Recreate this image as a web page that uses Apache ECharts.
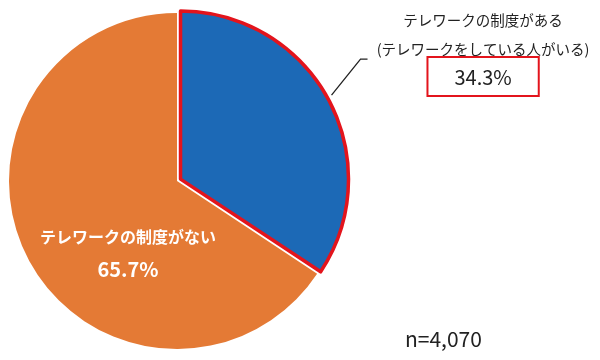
<!DOCTYPE html>
<html>
<head>
<meta charset="utf-8">
<script src="https://cdn.jsdelivr.net/npm/echarts@6/dist/echarts.min.js"></script>
<style>html,body{margin:0;padding:0;background:#fff}#c{width:600px;height:360px}</style>
</head>
<body>
<div id="c"></div>
<script>
const categories = ['テレワークの制度がある', 'テレワークの制度がない'];
const subLabels = ['(テレワークをしている人がいる)', ''];
const values = [34.3, 65.7];
const colors = ['#1C69B6', '#E47A35'];
const sampleNote = 'n=4,070';

const FONT = '"Noto Sans CJK JP", "Noto Sans", sans-serif';
const chart = echarts.init(document.getElementById('c'), null, {renderer: 'canvas'});

const data = values.map((v, i) => {
  const item = {
    name: categories[i],
    value: v,
    itemStyle: i === 0
      ? {color: colors[i], borderColor: '#E3141C', borderWidth: 3.5}
      : {color: colors[i], borderWidth: 0}
  };
  if (i === 0) {
    item.selected = true;
    item.select = {itemStyle: {color: colors[i], borderColor: '#E3141C', borderWidth: 3.5}};
    item.label = {
      position: 'outside',
      overflow: 'none',
      formatter: p => '{a|' + p.name + '}\n{a|' + subLabels[0] + '}\n{b|' + p.value.toFixed(1) + '%}',
      rich: {
        a: {fontSize: 14.5, lineHeight: 29.5, color: '#222', fontFamily: FONT, align: 'center'},
        b: {fontSize: 20, lineHeight: 24, color: '#222', fontFamily: FONT, align: 'center',
            borderColor: '#E3141C', borderWidth: 2, padding: [10, 27, 9, 27]}
      }
    };
    item.labelLine = {show: true, lineStyle: {color: '#222', width: 1.3}};
  } else {
    item.label = {
      position: 'inside',
      align: 'center',
      formatter: p => '{c|' + p.name + '}\n{d|' + p.value.toFixed(1) + '%}',
      rich: {
        c: {fontSize: 16, lineHeight: 33, color: '#fff', fontWeight: 'bold', fontFamily: FONT},
        d: {fontSize: 20, lineHeight: 33, color: '#fff', fontWeight: 'bold', fontFamily: FONT}
      }
    };
    item.labelLine = {show: false};
  }
  return item;
});

chart.setOption({
  animation: false,
  backgroundColor: '#fff',
  graphic: [{
    type: 'text', left: 405, top: 329,
    style: {text: sampleNote, fontSize: 21, fill: '#222', fontFamily: FONT}
  }],
  series: [{
    type: 'pie',
    center: [177, 181],
    radius: [0, 168],
    startAngle: 90,
    clockwise: true,
    selectedMode: 'single',
    selectedOffset: 4,
    emphasis: {disabled: true},
    data: data,
    labelLayout: function (params) {
      if (params.dataIndex === 0) {
        return {x: 369, dy: -87, align: 'left', verticalAlign: 'top',
                labelLinePoints: [[328, 97], [357, 61], [364, 61]]};
      }
      return {x: 128, y: 253, align: 'center', verticalAlign: 'middle'};
    }
  }]
});
</script>
</body>
</html>
